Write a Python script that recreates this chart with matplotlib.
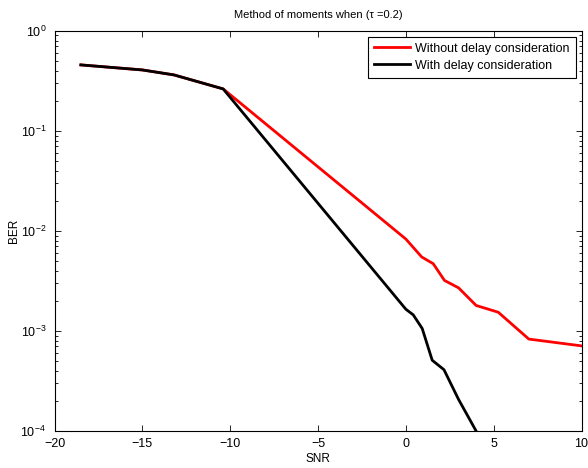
import matplotlib.pyplot as plt
import matplotlib.ticker as mticker

plt.rcParams['font.family'] = ['Liberation Sans', 'DejaVu Sans']
plt.rcParams['mathtext.fontset'] = 'custom'
plt.rcParams['mathtext.rm'] = 'Liberation Sans'
plt.rcParams['mathtext.it'] = 'Liberation Sans:italic'
plt.rcParams['axes.unicode_minus'] = True

# BER vs SNR, method of moments
snr_nodelay = [-18.5, -15.0, -13.2, -10.4, 0.0, 0.9, 1.56, 2.2, 3.0, 4.0, 5.26, 7.0, 10.0]
ber_nodelay = [0.457, 0.407, 0.363, 0.263, 0.0083, 0.0055, 0.0047, 0.0032, 0.0027,
               0.0018, 0.00154, 0.00083, 0.00071]

snr_delay = [-18.5, -15.0, -13.2, -10.4, 0.0, 0.42, 0.93, 1.5, 2.17, 3.0, 4.0]
ber_delay = [0.457, 0.407, 0.363, 0.263, 0.00165, 0.00145, 0.00106, 0.00051, 0.00041,
             0.000207, 0.0001]

xticks = [-20, -15, -10, -5, 0, 5, 10]
yticks = [1e-4, 1e-3, 1e-2, 1e-1, 1e0]

fig = plt.figure(figsize=(5.88, 4.68), dpi=100)
ax = fig.add_axes([0.0927, 0.079, 0.8963, 0.855])

ax.semilogy(snr_nodelay, ber_nodelay, color='#ff0000', lw=2.0,
            label='Without delay consideration')
ax.semilogy(snr_delay, ber_delay, color='black', lw=2.0,
            label='With delay consideration')

ax.set_xlim(-20, 10)
ax.set_ylim(1e-4, 1e0)
ax.set_xticks(xticks)
ax.set_yticks(yticks)
ax.yaxis.set_minor_locator(mticker.LogLocator(base=10, subs=range(2, 10), numticks=20))
ax.yaxis.set_minor_formatter(mticker.NullFormatter())
ax.set_yticklabels([r'$10^{%d}$' % e for e in range(-4, 1)])
ax.set_xticklabels(['\u2212%d' % -v if v < 0 else '%d' % v for v in xticks])

ax.tick_params(which='both', direction='in', top=True, right=True, labelsize=9,
               width=0.6)
ax.tick_params(axis='x', pad=5)
ax.tick_params(axis='y', pad=6)
ax.tick_params(which='major', length=4)
ax.tick_params(which='minor', length=2.5)
for sp in ax.spines.values():
    sp.set_linewidth(0.8)

ax.set_title('Method of moments when (\u03c4 =0.2)', fontsize=8, pad=9)
ax.set_xlabel('SNR', fontsize=8.5, labelpad=2)
ax.set_ylabel('BER', fontsize=8.5, labelpad=0)

leg = ax.legend(loc='upper right', fontsize=9, fancybox=False, framealpha=1,
                edgecolor='black', borderaxespad=0.45, handlelength=2.9,
                handletextpad=0.4, borderpad=0.5, labelspacing=0.4)
leg.get_frame().set_linewidth(0.8)

fig.savefig('out.png', dpi=100)
